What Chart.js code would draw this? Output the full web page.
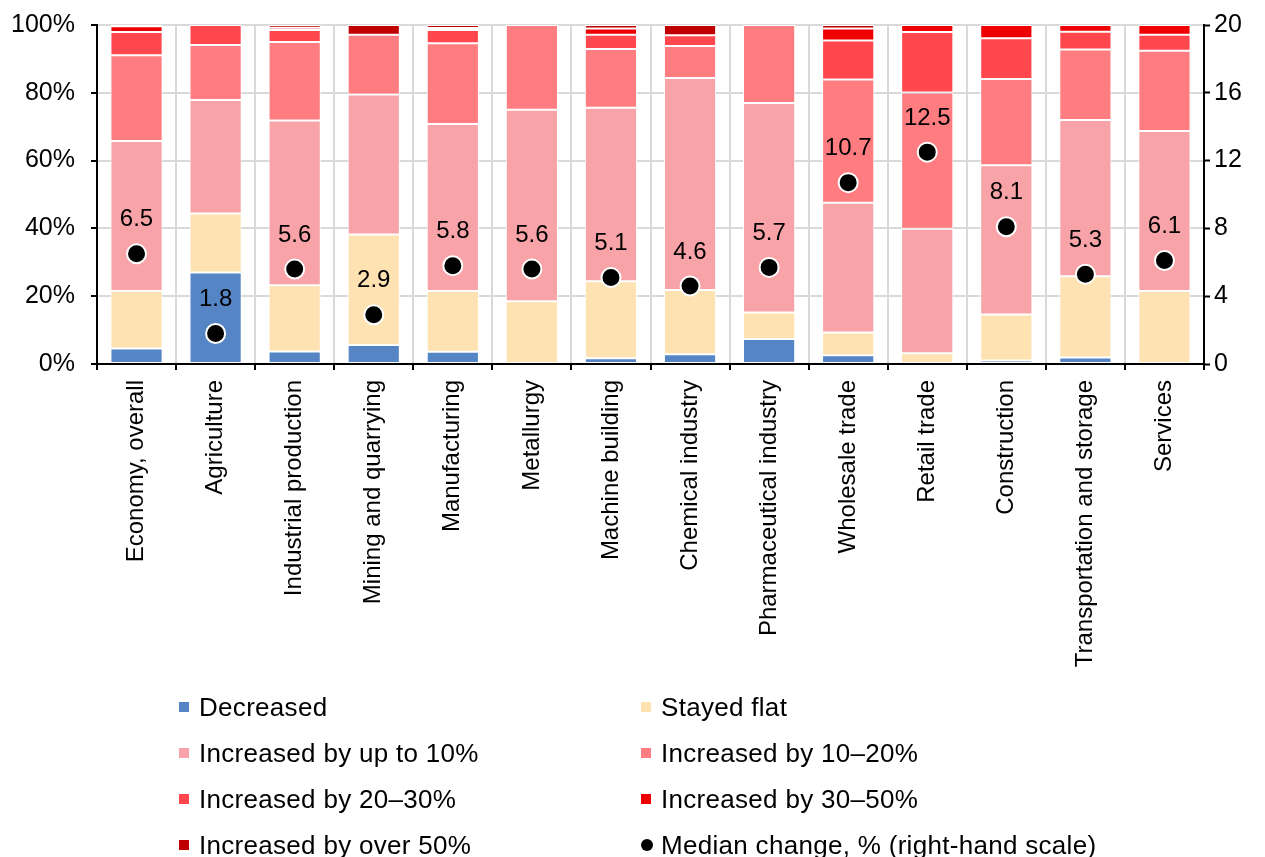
<!DOCTYPE html>
<html>
<head>
<meta charset="utf-8">
<script src="https://cdn.jsdelivr.net/npm/chart.js@4/dist/chart.umd.min.js"></script>
<style>
  html, body { margin: 0; padding: 0; background: #fff; overflow: hidden; }
  #wrap { position: relative; width: 1265px; height: 857px; overflow: hidden; }
  #chart { position: absolute; left: 0; top: -6px; }
  #legend { position: absolute; left: 0; top: 0; width: 1265px; height: 857px; pointer-events: none;
            font-family: 'Liberation Sans', Arial, sans-serif; font-size: 26px; letter-spacing: 0.3px; color: #000; }
  .item { position: absolute; height: 30px; line-height: 30px; white-space: nowrap; transform: translateY(-50%); }
  .mark { position: absolute; left: 0; top: 10px; width: 10px; height: 10px; }
  .mark.dot { border-radius: 50%; width: 12px; height: 12px; top: 9px; }
  .txt { position: absolute; left: 20px; top: 0; }
</style>
</head>
<body>
<div id="wrap">
  <canvas id="chart" width="1265" height="857"></canvas>
  <div id="legend"></div>
</div>
<script>
// Sectors
const categories = ['Economy, overall', 'Agriculture', 'Industrial production', 'Mining and quarrying',
  'Manufacturing', 'Metallurgy', 'Machine building', 'Chemical industry', 'Pharmaceutical industry',
  'Wholesale trade', 'Retail trade', 'Construction', 'Transportation and storage', 'Services'];

// Share of respondents, % (stacked to 100)
const decreased = [4.6, 27.0, 3.7, 5.6, 3.6, 0, 1.7, 2.9, 7.4, 2.6, 0, 1.0, 1.9, 0];
const stayedFlat = [16.9, 17.4, 19.5, 32.6, 17.9, 18.5, 22.7, 18.9, 7.8, 6.7, 3.2, 13.6, 24.0, 21.5];
const upTo10 = [44.3, 33.5, 48.6, 41.3, 49.3, 56.5, 51.2, 62.6, 61.8, 38.3, 36.7, 44.0, 46.1, 47.2];
const by10to20 = [25.3, 16.2, 23.2, 17.6, 23.8, 25.0, 17.3, 9.4, 23.0, 36.3, 40.2, 25.5, 20.8, 23.7];
const by20to30 = [6.8, 5.9, 3.5, 0, 3.9, 0, 4.2, 3.2, 0, 11.5, 17.8, 12.0, 5.2, 4.7];
const by30to50 = [1.7, 0, 0.7, 0, 0.6, 0, 1.9, 0, 0, 3.6, 2.1, 3.9, 2.0, 2.9];
const over50 = [0.4, 0, 0.8, 2.9, 0.9, 0, 1.0, 3.0, 0, 1.0, 0, 0, 0, 0];

// Median change, % (right-hand scale)
const medianChange = [6.5, 1.8, 5.6, 2.9, 5.8, 5.6, 5.1, 4.6, 5.7, 10.7, 12.5, 8.1, 5.3, 6.1];

// Axis ticks
const leftTicks = [0, 20, 40, 60, 80, 100];
const rightTicks = [0, 4, 8, 12, 16, 20];

const FONT = "'Liberation Sans', Arial, sans-serif";

const barSeries = [
  { label: 'Decreased', data: decreased, color: '#5585C5' },
  { label: 'Stayed flat', data: stayedFlat, color: '#FFE2B2' },
  { label: 'Increased by up to 10%', data: upTo10, color: '#F8A3A7' },
  { label: 'Increased by 10–20%', data: by10to20, color: '#FF7C80' },
  { label: 'Increased by 20–30%', data: by20to30, color: '#FF474D' },
  { label: 'Increased by 30–50%', data: by30to50, color: '#EE0000' },
  { label: 'Increased by over 50%', data: over50, color: '#C00000' }
];

const datasets = barSeries.map(s => ({
  type: 'bar',
  label: s.label,
  data: s.data,
  backgroundColor: s.color,
  borderColor: '#ffffff',
  borderWidth: 1,
  borderSkipped: false,
  stack: 'shares',
  yAxisID: 'y',
  order: 1,
  categoryPercentage: 1,
  barPercentage: 0.66
}));

datasets.push({
  type: 'line',
  label: 'Median change, % (right-hand scale)',
  data: medianChange,
  yAxisID: 'y1',
  showLine: false,
  pointRadius: 9.5,
  pointBorderWidth: 2,
  pointBackgroundColor: '#000',
  pointBorderColor: '#fff',
  order: 0
});

// Value labels above the median dots
const medianLabels = {
  id: 'medianLabels',
  afterDatasetsDraw(chart) {
    const idx = chart.data.datasets.length - 1;
    const meta = chart.getDatasetMeta(idx);
    const ctx = chart.ctx;
    ctx.save();
    ctx.font = '24px ' + FONT;
    ctx.fillStyle = '#000';
    ctx.textAlign = 'center';
    ctx.textBaseline = 'middle';
    meta.data.forEach((pt, i) => {
      ctx.fillText(chart.data.datasets[idx].data[i].toFixed(1), pt.x, pt.y - 34);
    });
    ctx.restore();
  }
};

const chart = new Chart(document.getElementById('chart'), {
  data: { labels: categories, datasets },
  options: {
    responsive: false,
    animation: false,
    events: [],
    layout: { padding: { top: 18, bottom: 0, left: 0, right: 0 } },
    plugins: { legend: { display: false }, tooltip: { enabled: false } },
    scales: {
      x: {
        stacked: true,
        offset: true,
        grid: { offset: true, color: '#D9D9D9', lineWidth: 2, tickColor: '#000', tickWidth: 2, tickLength: 6, drawTicks: true },
        border: { color: '#000', width: 2 },
        ticks: { autoSkip: false, minRotation: 90, maxRotation: 90, padding: 10, color: '#000', font: { family: FONT, size: 24 } },
        afterFit(scale) { scale.height = 857 - 370; }
      },
      y: {
        stacked: true,
        position: 'left',
        min: 0, max: 100,
        afterBuildTicks(scale) { scale.ticks = leftTicks.map(v => ({ value: v })); },
        grid: { color: '#D9D9D9', lineWidth: 2, tickColor: '#000', tickWidth: 2, tickLength: 6 },
        border: { color: '#000', width: 2 },
        ticks: { padding: 16, color: '#000', font: { family: FONT, size: 25 }, callback: v => v + '%' },
        afterFit(scale) { scale.width = 97; }
      },
      y1: {
        position: 'right',
        min: 0, max: 20,
        afterBuildTicks(scale) { scale.ticks = rightTicks.map(v => ({ value: v })); },
        grid: { drawOnChartArea: false, tickColor: '#000', tickWidth: 2, tickLength: 6 },
        border: { color: '#000', width: 2 },
        ticks: { padding: 4, color: '#000', font: { family: FONT, size: 25 } },
        afterFit(scale) { scale.width = 61; }
      }
    }
  },
  plugins: [medianLabels]
});

// Two-column legend below the chart, built from the chart's datasets
const legend = document.getElementById('legend');
const colX = [179, 641];
const rowY = [707, 753, 799, 845];
chart.data.datasets.forEach((ds, i) => {
  const item = document.createElement('div');
  item.className = 'item';
  item.style.left = colX[i % 2] + 'px';
  item.style.top = rowY[Math.floor(i / 2)] + 'px';
  const mark = document.createElement('span');
  const isDot = ds.type === 'line';
  mark.className = 'mark' + (isDot ? ' dot' : '');
  mark.style.background = isDot ? '#000' : ds.backgroundColor;
  const txt = document.createElement('span');
  txt.className = 'txt';
  txt.textContent = ds.label;
  item.appendChild(mark);
  item.appendChild(txt);
  legend.appendChild(item);
});
</script>
</body>
</html>
